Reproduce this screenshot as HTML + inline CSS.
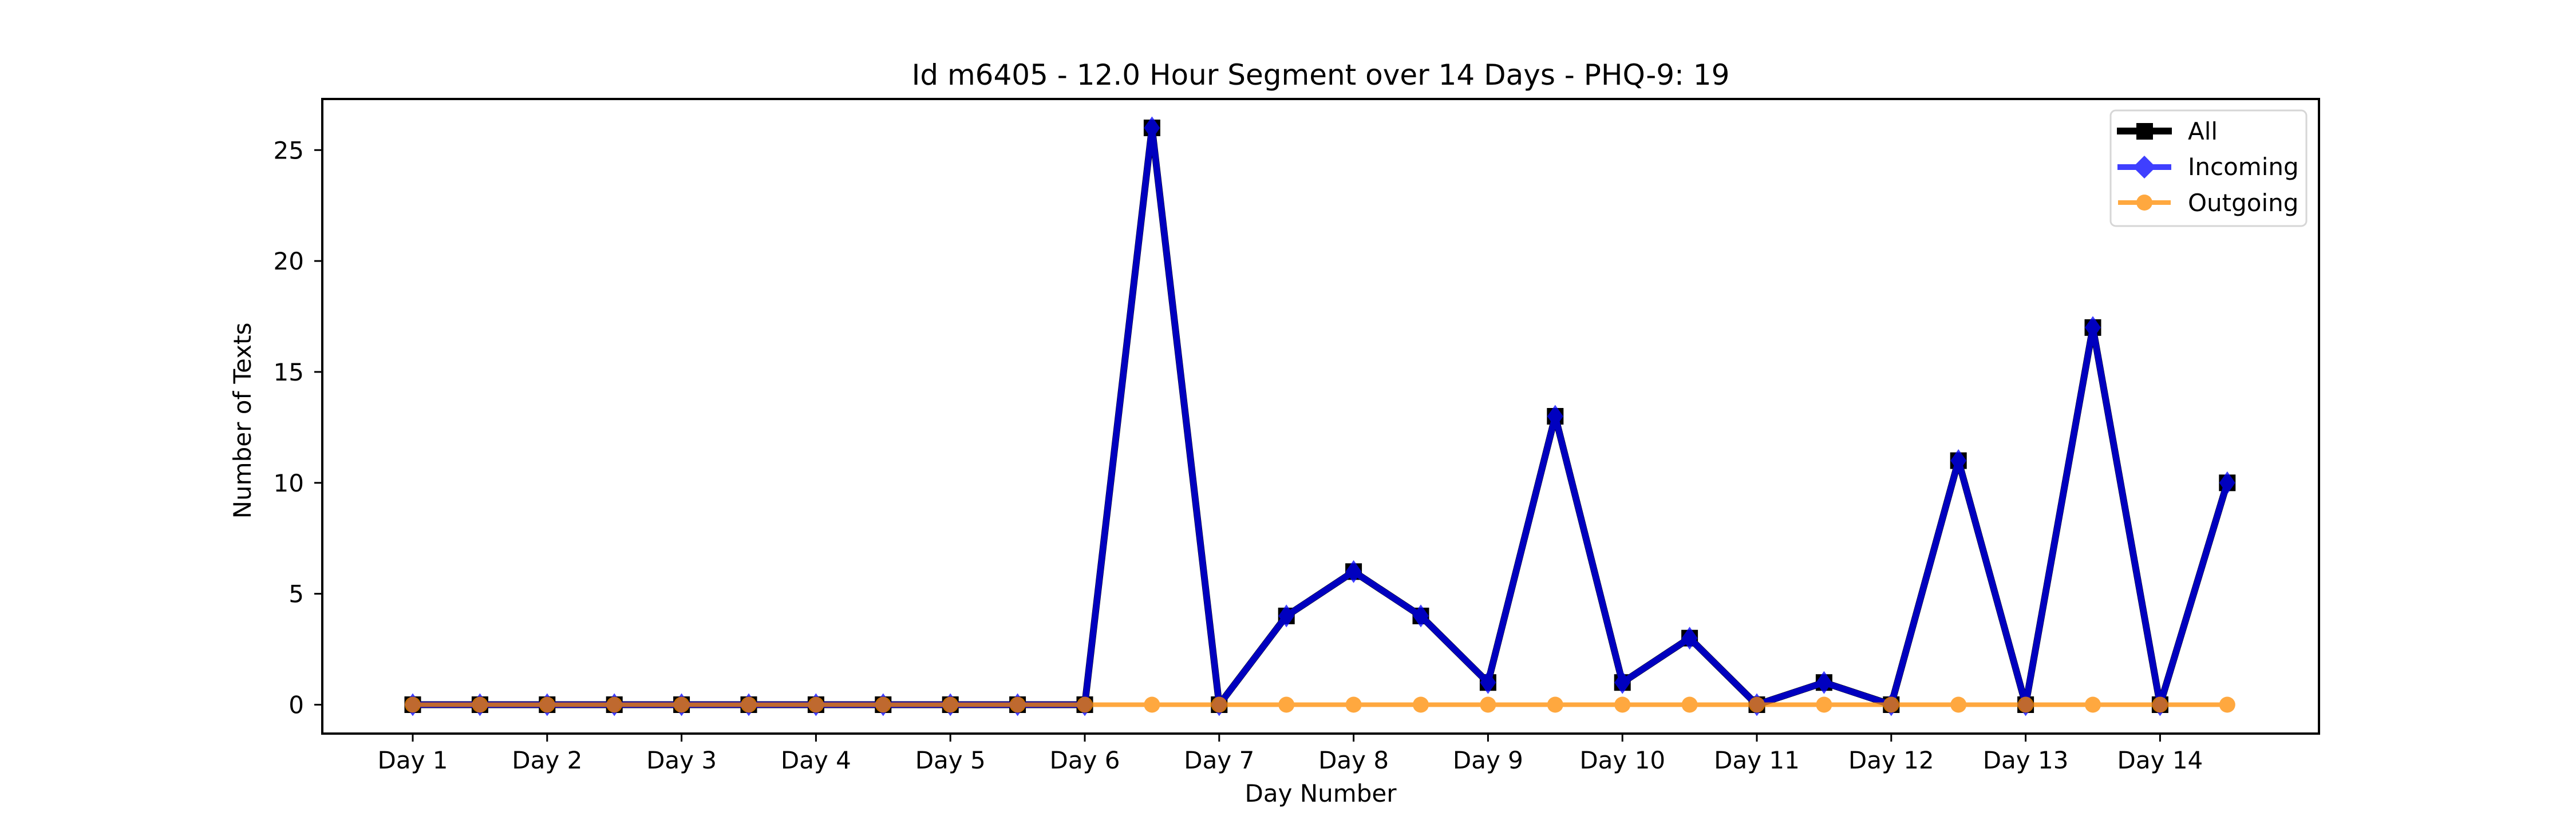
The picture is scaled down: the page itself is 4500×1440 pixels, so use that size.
<!DOCTYPE html>
<html><head><meta charset="utf-8"><style>
html,body{margin:0;padding:0;background:#fff}
svg{display:block;font-family:"DejaVu Sans","Liberation Sans",sans-serif}
</style></head><body>
<svg id="chart" width="4500" height="1440" viewBox="0 0 4500 1440" xmlns="http://www.w3.org/2000/svg">
<rect width="4500" height="1440" fill="#fff"/>
<text x="2307" y="148" font-size="50" text-anchor="middle">Id m6405 - 12.0 Hour Segment over 14 Days - PHQ-9: 19</text>
<g id="axes"></g>
<g id="series"></g>
<rect x="563" y="173" width="3488" height="1109" fill="none" stroke="#000" stroke-width="4"/>
<text x="2307" y="1401" font-size="42" text-anchor="middle">Day Number</text>
<text transform="translate(438,735) rotate(-90)" font-size="42" text-anchor="middle">Number of Texts</text>
<g>
<rect x="3687" y="193" width="342" height="202" rx="9" fill="#fff" fill-opacity="0.8" stroke="#d6d6d6" stroke-width="3"/>
<g>
<line x1="3698" y1="229" x2="3794" y2="229" stroke="#000" stroke-width="12"/>
<rect x="3732" y="215" width="29" height="29" fill="#000"/>
<text x="3822" y="244" font-size="42">All</text></g>
<g opacity="0.75">
<line x1="3699" y1="292" x2="3793" y2="292" stroke="#0000ff" stroke-width="10"/>
<polygon points="3746,272 3766,292 3746,312 3726,292" fill="#0000ff"/></g>
<text x="3822" y="306" font-size="42">Incoming</text>
<g opacity="0.75">
<line x1="3700" y1="354" x2="3792" y2="354" stroke="#ff8c00" stroke-width="8"/>
<circle cx="3746" cy="354" r="14" fill="#ff8c00"/></g>
<text x="3822" y="369" font-size="42">Outgoing</text>
</g>
</svg>
<script>
const dayLabels = ["Day 1","Day 2","Day 3","Day 4","Day 5","Day 6","Day 7","Day 8","Day 9","Day 10","Day 11","Day 12","Day 13","Day 14"];
const yTicks = [0,5,10,15,20,25];
const allCounts = [0,0,0,0,0,0,0,0,0,0,0,26,0,4,6,4,1,13,1,3,0,1,0,11,0,17,0,10];
const incomingCounts = [0,0,0,0,0,0,0,0,0,0,0,26,0,4,6,4,1,13,1,3,0,1,0,11,0,17,0,10];
const outgoingCounts = [0,0,0,0,0,0,0,0,0,0,0,0,0,0,0,0,0,0,0,0,0,0,0,0,0,0,0,0];

const NS = "http://www.w3.org/2000/svg";
const X0 = 721, DX = 117.4, Y0 = 1231.5, DY = 38.77;
function xs(i){ return X0 + i*DX; }
function ys(v){ return Y0 - v*DY; }
function mk(tag, attrs, parent){ const e=document.createElementNS(NS,tag); for(const k in attrs) e.setAttribute(k,attrs[k]); parent.appendChild(e); return e; }
const axes = document.getElementById('axes');
const series = document.getElementById('series');

dayLabels.forEach((lab, d) => {
  const x = xs(d*2);
  const t = mk('line',{x1:x,y1:1282,x2:x,y2:1296,stroke:'#000','stroke-width':3},axes);
  
  
  const tx = mk('text',{x:x,y:1343,'font-size':42,'text-anchor':'middle'},axes);
  tx.textContent = lab;
  
  
});
yTicks.forEach(v => {
  const y = ys(v);
  const t = mk('line',{x1:549,y1:y,x2:563,y2:y,stroke:'#000','stroke-width':3},axes);
  
  
  const tx = mk('text',{x:531,y:y+15,'font-size':42,'text-anchor':'end'},axes);
  tx.textContent = v;
  
  
});

function drawSeries(vals, name, color, lw, opacity, marker){
  const g = mk('g',{opacity:opacity},series);
  
  
  const pts = vals.map((v,i)=>xs(i)+','+ys(v)).join(' ');
  const pl = mk('polyline',{points:pts,fill:'none',stroke:color,'stroke-width':lw,'stroke-linejoin':'round'},g);
  
  
  vals.forEach((v,i)=>{
    const x=xs(i), y=ys(v); let m;
    if(marker==='square') m = mk('rect',{x:x-14.5,y:y-14.5,width:29,height:29,fill:color},g);
    else if(marker==='diamond') m = mk('polygon',{points:`${x},${y-20} ${x+14},${y} ${x},${y+20} ${x-14},${y}`,fill:color},g);
    else m = mk('circle',{cx:x,cy:y,r:14,fill:color},g);
    
    
  });
}
drawSeries(allCounts,'all','#000',12,1,'square');
drawSeries(incomingCounts,'incoming','#0000ff',11,0.75,'diamond');
drawSeries(outgoingCounts,'outgoing','#ff8c00',8,0.75,'circle');
</script>
</body></html>
